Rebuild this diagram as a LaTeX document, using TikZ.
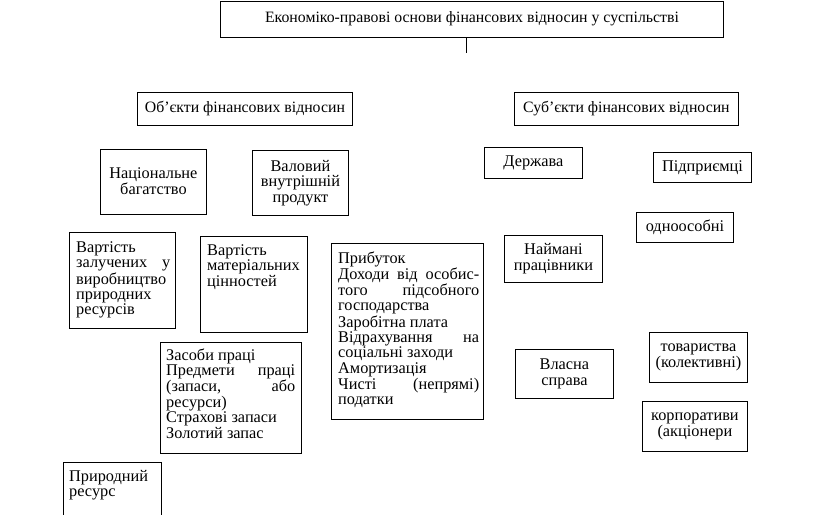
\documentclass[tikz,border=0pt]{standalone}
\usepackage{fontspec}
\setmainfont{Liberation Serif}
\newcommand\tlines[1]{\begin{tabular}[t]{@{}l@{}}#1\end{tabular}}
\begin{document}
\begin{tikzpicture}[x=1pt,y=-1pt,
  bx/.style={draw, line width=0.9pt, inner sep=0pt, anchor=north west, align=center,
    font=\fontsize{16.3}{15.6}\selectfont},
  hbx/.style={bx, font=\fontsize{15.8}{18}\selectfont},
  txt/.style={inner sep=0pt, anchor=base west,
    font=\fontsize{16.3}{15.3}\selectfont},
  link/.style={draw, line width=0.9pt}]
\useasboundingbox (0,0) rectangle (816,514);

% headers
\node[hbx, minimum width=503, minimum height=36.5] (top) at (220,0.5)
  {\raisebox{5pt}{Економіко-правові основи фінансових відносин у суспільстві}};
\coordinate (tl) at (466,53);
\draw[link] (tl |- top.south) -- (tl);
\node[hbx, minimum width=215, minimum height=33] (obj) at (137,92) {\raisebox{2.5pt}{Об’єкти фінансових відносин}};
\node[hbx, minimum width=224, minimum height=33] (subj) at (514,92) {\raisebox{2.5pt}{Суб’єкти фінансових відносин}};

% centred boxes
\node[bx, minimum width=106, minimum height=65] (nat) at (100,149) {\raisebox{2pt}{Національне}\\\raisebox{2pt}{багатство}};
\node[bx, minimum width=96, minimum height=65] (vvp) at (252,150) {Валовий\\внутрішній\\продукт};
\node[bx, minimum width=98, minimum height=31] (derzh) at (484,147) {Держава};
\node[bx, minimum width=98, minimum height=30] (pidpr) at (653,152) {Підприємці};
\node[bx, minimum width=97, minimum height=30] (odno) at (636,212) {одноособні};
\node[bx, minimum width=98, minimum height=47] (naym) at (504,235) {Наймані\\працівники};
\node[bx, minimum width=98, minimum height=49] (vlas) at (515,349) {Власна\\справа};
\node[bx, minimum width=98, minimum height=50] (tov) at (649,332) {товариства\\(колективні)};
\node[bx, minimum width=105, minimum height=50] (korp) at (642,401) {корпоративи\\(акціонери};

% boxes with top-left text
\node[bx, minimum width=106, minimum height=96] (vart1) at (69,232) {};
\node[txt] (vart1t) at (76,252.5) {\tlines{Вартість\\\makebox[94pt][s]{залучених у}\\виробництво\\природних\\ресурсів}};

\node[bx, minimum width=107, minimum height=96] (vart2) at (200,236) {};
\node[txt] (vart2t) at (207,255) {\tlines{Вартість\\матеріальних\\цінностей}};

\node[bx, minimum width=152, minimum height=176] (prib) at (331,243) {};
\node[txt] (pribt) at (338,263) {\tlines{Прибуток\\\makebox[141pt][s]{Доходи від особис-}\\\makebox[141pt][s]{того підсобного}\\господарства\\Заробітна плата\\\makebox[141pt][s]{Відрахування на}\\соціальні заходи\\Амортизація\\\makebox[141pt][s]{Чисті (непрямі)}\\податки}};

\node[bx, minimum width=141, minimum height=111] (zas) at (160,342) {};
\node[txt] (zast) at (166,360) {\tlines{Засоби праці\\\makebox[129pt][s]{Предмети праці}\\\makebox[129pt][s]{(запаси, або}\\ресурси)\\Страхові запаси\\Золотий запас}};

\node[bx, minimum width=98, minimum height=60] (pryr) at (63,462) {};
\node[txt] (pryrt) at (69,481) {\tlines{Природний\\ресурс}};
\end{tikzpicture}
\end{document}
